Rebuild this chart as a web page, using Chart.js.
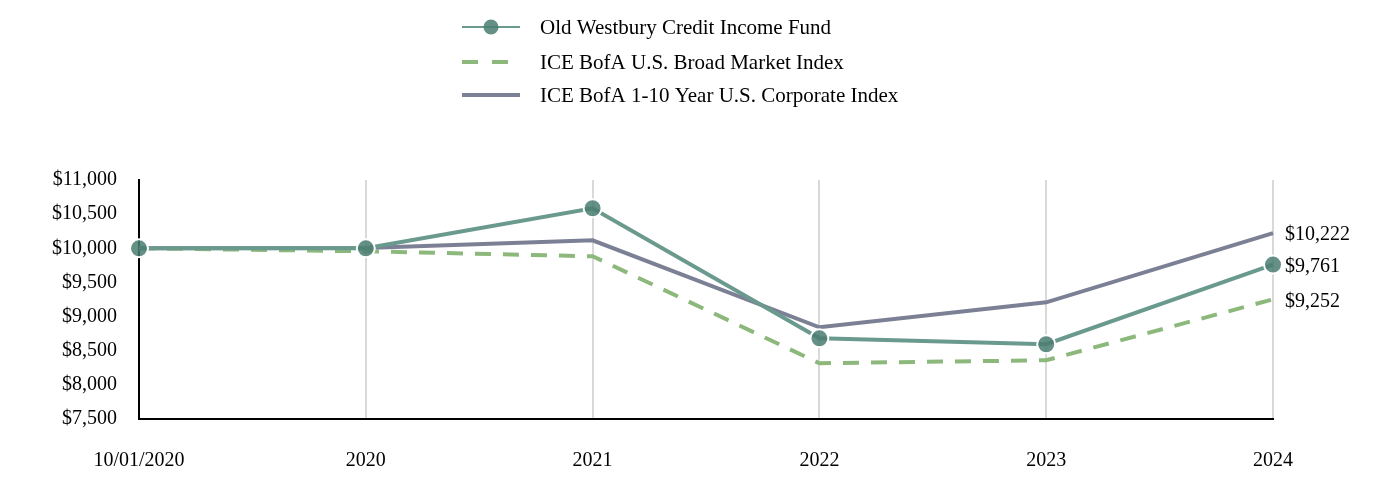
<!DOCTYPE html>
<html><head><meta charset="utf-8">
<script src="https://cdn.jsdelivr.net/npm/chart.js@4/dist/chart.umd.min.js"></script>
<style>html,body{margin:0;padding:0;background:#fff}#wrap{width:1392px;height:492px;position:relative}</style>
</head><body><div id="wrap"><canvas id="c" width="1392" height="492"></canvas></div>
<script>
const categories = ["10/01/2020", "2020", "2021", "2022", "2023", "2024"];
const fundValues = [10000, 10000, 10586, 8682, 8595, 9761];
const broadValues = [10000, 9956, 9883, 8317, 8360, 9252];
const corpValues = [10000, 10005, 10117, 8843, 9209, 10222];
const seriesNames = ["Old Westbury Credit Income Fund", "ICE BofA U.S. Broad Market Index", "ICE BofA 1-10 Year U.S. Corporate Index"];
const endLabels = ["$9,761", "$9,252", "$10,222"];
const yTicks = [7500, 8000, 8500, 9000, 9500, 10000, 10500, 11000];

const FONT = "'Liberation Serif', 'Times New Roman', serif";
const C_FUND = '#6a998d', C_FUND_PT = 'rgba(74,124,112,0.85)', C_BROAD = '#8db87c', C_CORP = '#7c8095';

const fmt = v => '$' + v.toLocaleString('en-US');

const legendPlugin = {
  id: 'customLegend',
  afterDraw(chart) {
    const ctx = chart.ctx;
    ctx.save();
    const x0 = 462, x1 = 520, tx = 540;
    const ys = [27, 62, 95];
    ctx.textBaseline = 'middle';
    ctx.textAlign = 'left';
    // fund
    ctx.strokeStyle = C_FUND; ctx.lineWidth = 2; ctx.setLineDash([]);
    ctx.beginPath(); ctx.moveTo(x0, ys[0]); ctx.lineTo(x1, ys[0]); ctx.stroke();
    ctx.fillStyle = C_FUND_PT; ctx.beginPath(); ctx.arc((x0 + x1) / 2, ys[0], 7.5, 0, Math.PI * 2); ctx.fill();
    // broad
    ctx.strokeStyle = C_BROAD; ctx.lineWidth = 4; ctx.setLineDash([16, 14]);
    ctx.beginPath(); ctx.moveTo(x0, ys[1]); ctx.lineTo(x1 - 6, ys[1]); ctx.stroke();
    // corp
    ctx.strokeStyle = C_CORP; ctx.lineWidth = 4; ctx.setLineDash([]);
    ctx.beginPath(); ctx.moveTo(x0, ys[2]); ctx.lineTo(x1, ys[2]); ctx.stroke();
    ctx.fillStyle = '#000';
    ctx.font = '21px ' + FONT;
    seriesNames.forEach((n, i) => ctx.fillText(n, tx, ys[i] + 1));
    // end labels
    ctx.font = '20px ' + FONT;
    const last = categories.length - 1;
    chart.data.datasets.forEach((ds, i) => {
      const meta = chart.getDatasetMeta(i);
      const p = meta.data[last];
      ctx.fillText(endLabels[i], p.x + 12, p.y + 2);
    });
    ctx.restore();
  }
};

new Chart(document.getElementById('c'), {
  type: 'line',
  data: {
    labels: categories,
    datasets: [
      { label: seriesNames[0], data: fundValues, borderColor: C_FUND, borderWidth: 4, pointRadius: 9, pointHoverRadius: 9,
        pointBackgroundColor: C_FUND_PT, pointBorderColor: '#fff', pointBorderWidth: 2, tension: 0 },
      { label: seriesNames[1], data: broadValues, borderColor: C_BROAD, borderWidth: 4, borderDash: [16, 12], pointRadius: 0, tension: 0 },
      { label: seriesNames[2], data: corpValues, borderColor: C_CORP, borderWidth: 4, pointRadius: 0, tension: 0 }
    ]
  },
  options: {
    responsive: false, animation: false,
    layout: { padding: { top: 180, left: 30, right: 119, bottom: -11 } },
    plugins: { legend: { display: false }, tooltip: { enabled: false } },
    scales: {
      x: {
        offset: false,
        grid: { display: true, color: '#d9d9d9', lineWidth: 2, drawTicks: false },
        border: { display: true, color: '#000', width: 2 },
        ticks: { color: '#000', font: { family: FONT, size: 20 }, padding: 30, maxRotation: 0, autoSkip: false }
      },
      y: {
        min: 7500, max: 11000,
        afterBuildTicks: s => { s.ticks = yTicks.map(v => ({ value: v })); },
        grid: { display: false, drawTicks: false },
        border: { display: true, color: '#000', width: 2 },
        ticks: { color: '#000', font: { family: FONT, size: 20 }, padding: 22, callback: v => fmt(v) }
      }
    }
  },
  plugins: [legendPlugin]
});
</script></body></html>
